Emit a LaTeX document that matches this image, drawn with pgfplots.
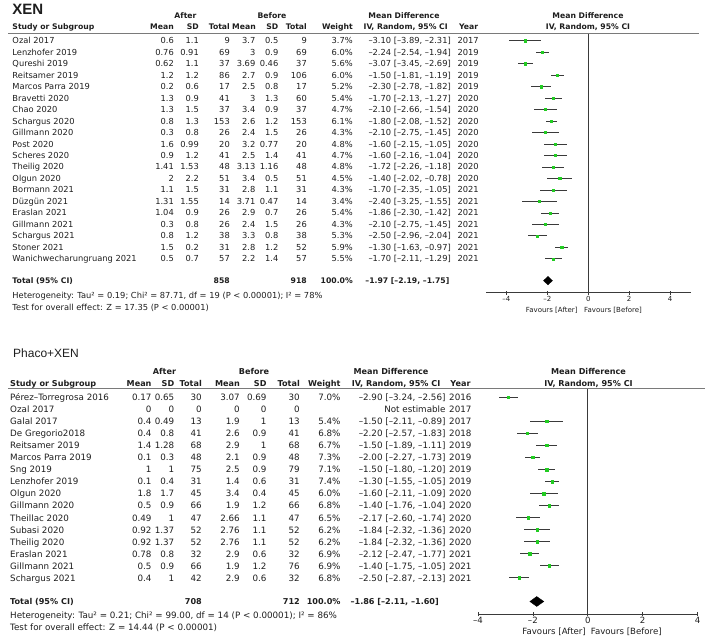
\documentclass[border=0pt]{standalone}
\usepackage{fontspec}
\setmainfont{DejaVu Sans}
\newfontfamily\arialf{Liberation Sans}
\usepackage{pgfplots}
\pgfplotsset{compat=1.18}
\usepackage{pgfplotstable}
\definecolor{txt}{HTML}{1E1E1E}
\definecolor{ci}{HTML}{3A3A3A}
\definecolor{gmark}{HTML}{22CC22}
\definecolor{rulec}{HTML}{7A7A7A}

% XEN: row (negative index), mean difference, lower, upper
\pgfplotstableread{
row md lo hi
-1 -3.10 -3.89 -2.31
-2 -2.24 -2.54 -1.94
-3 -3.07 -3.45 -2.69
-4 -1.50 -1.81 -1.19
-5 -2.30 -2.78 -1.82
-6 -1.70 -2.13 -1.27
-7 -2.10 -2.66 -1.54
-8 -1.80 -2.08 -1.52
-9 -2.10 -2.75 -1.45
-10 -1.60 -2.15 -1.05
-11 -1.60 -2.16 -1.04
-12 -1.72 -2.26 -1.18
-13 -1.40 -2.02 -0.78
-14 -1.70 -2.35 -1.05
-15 -2.40 -3.25 -1.55
-16 -1.86 -2.30 -1.42
-17 -2.10 -2.75 -1.45
-18 -2.50 -2.96 -2.04
-19 -1.30 -1.63 -0.97
-20 -1.70 -2.11 -1.29
}\xendata

% Phaco+XEN (row 2 not estimable)
\pgfplotstableread{
row md lo hi
-1 -2.90 -3.24 -2.56
-3 -1.50 -2.11 -0.89
-4 -2.20 -2.57 -1.83
-5 -1.50 -1.89 -1.11
-6 -2.00 -2.27 -1.73
-7 -1.50 -1.80 -1.20
-8 -1.30 -1.55 -1.05
-9 -1.60 -2.11 -1.09
-10 -1.40 -1.76 -1.04
-11 -2.17 -2.60 -1.74
-12 -1.84 -2.32 -1.36
-13 -1.84 -2.32 -1.36
-14 -2.12 -2.47 -1.77
-15 -1.40 -1.75 -1.05
-16 -2.50 -2.87 -2.13
}\phacodata

\newcommand\fa{\fontsize{8.3}{10}\selectfont}
\newcommand\fab{\bfseries\fontsize{7.7}{10}\selectfont}
\newcommand\fb{\fontsize{8.75}{10}\selectfont}
\newcommand\fbb{\bfseries\fontsize{8.1}{10}\selectfont}

\def\toprows{Ozal 2017/0.6/1.1/9/3.7/0.5/9/3.7\%/{--3.10 [--3.89, --2.31]}/2017,
Lenzhofer 2019/0.76/0.91/69/3/0.9/69/6.0\%/{--2.24 [--2.54, --1.94]}/2019,
Qureshi 2019/0.62/1.1/37/3.69/0.46/37/5.6\%/{--3.07 [--3.45, --2.69]}/2019,
Reitsamer 2019/1.2/1.2/86/2.7/0.9/106/6.0\%/{--1.50 [--1.81, --1.19]}/2019,
Marcos Parra 2019/0.2/0.6/17/2.5/0.8/17/5.2\%/{--2.30 [--2.78, --1.82]}/2019,
Bravetti 2020/1.3/0.9/41/3/1.3/60/5.4\%/{--1.70 [--2.13, --1.27]}/2020,
Chao 2020/1.3/1.5/37/3.4/0.9/37/4.7\%/{--2.10 [--2.66, --1.54]}/2020,
Schargus 2020/0.8/1.3/153/2.6/1.2/153/6.1\%/{--1.80 [--2.08, --1.52]}/2020,
Gillmann 2020/0.3/0.8/26/2.4/1.5/26/4.3\%/{--2.10 [--2.75, --1.45]}/2020,
Post 2020/1.6/0.99/20/3.2/0.77/20/4.8\%/{--1.60 [--2.15, --1.05]}/2020,
Scheres 2020/0.9/1.2/41/2.5/1.4/41/4.7\%/{--1.60 [--2.16, --1.04]}/2020,
Theilig 2020/1.41/1.53/48/3.13/1.16/48/4.8\%/{--1.72 [--2.26, --1.18]}/2020,
Olgun 2020/2/2.2/51/3.4/0.5/51/4.5\%/{--1.40 [--2.02, --0.78]}/2020,
Bormann 2021/1.1/1.5/31/2.8/1.1/31/4.3\%/{--1.70 [--2.35, --1.05]}/2021,
Düzgün 2021/1.31/1.55/14/3.71/0.47/14/3.4\%/{--2.40 [--3.25, --1.55]}/2021,
Eraslan 2021/1.04/0.9/26/2.9/0.7/26/5.4\%/{--1.86 [--2.30, --1.42]}/2021,
Gillmann 2021/0.3/0.8/26/2.4/1.5/26/4.3\%/{--2.10 [--2.75, --1.45]}/2021,
Schargus 2021/0.8/1.2/38/3.3/0.8/38/5.3\%/{--2.50 [--2.96, --2.04]}/2021,
Stoner 2021/1.5/0.2/31/2.8/1.2/52/5.9\%/{--1.30 [--1.63, --0.97]}/2021,
Wanichwecharungruang 2021/0.5/0.7/57/2.2/1.4/57/5.5\%/{--1.70 [--2.11, --1.29]}/2021}

\def\botrows{Pérez--Torregrosa 2016/0.17/0.65/30/3.07/0.69/30/7.0\%/{--2.90 [--3.24, --2.56]}/2016,
Ozal 2017/0/0/0/0/0/0//{Not estimable}/2017,
Galal 2017/0.4/0.49/13/1.9/1/13/5.4\%/{--1.50 [--2.11, --0.89]}/2017,
De Gregorio2018/0.4/0.8/41/2.6/0.9/41/6.8\%/{--2.20 [--2.57, --1.83]}/2018,
Reitsamer 2019/1.4/1.28/68/2.9/1/68/6.7\%/{--1.50 [--1.89, --1.11]}/2019,
Marcos Parra 2019/0.1/0.3/48/2.1/0.9/48/7.3\%/{--2.00 [--2.27, --1.73]}/2019,
Sng 2019/1/1/75/2.5/0.9/79/7.1\%/{--1.50 [--1.80, --1.20]}/2019,
Lenzhofer 2019/0.1/0.4/31/1.4/0.6/31/7.4\%/{--1.30 [--1.55, --1.05]}/2019,
Olgun 2020/1.8/1.7/45/3.4/0.4/45/6.0\%/{--1.60 [--2.11, --1.09]}/2020,
Gillmann 2020/0.5/0.9/66/1.9/1.2/66/6.8\%/{--1.40 [--1.76, --1.04]}/2020,
Theillac 2020/0.49/1/47/2.66/1.1/47/6.5\%/{--2.17 [--2.60, --1.74]}/2020,
Subasi 2020/0.92/1.37/52/2.76/1.1/52/6.2\%/{--1.84 [--2.32, --1.36]}/2020,
Theilig 2020/0.92/1.37/52/2.76/1.1/52/6.2\%/{--1.84 [--2.32, --1.36]}/2020,
Eraslan 2021/0.78/0.8/32/2.9/0.6/32/6.9\%/{--2.12 [--2.47, --1.77]}/2021,
Gillmann 2021/0.5/0.9/66/1.9/1.2/76/6.9\%/{--1.40 [--1.75, --1.05]}/2021,
Schargus 2021/0.4/1/42/2.9/0.6/32/6.8\%/{--2.50 [--2.87, --2.13]}/2021}

\begin{document}
\begin{tikzpicture}
\useasboundingbox (0,0) rectangle (708pt,-638pt);

% ---------------- top forest axis ----------------
\begin{axis}[at={(486pt,-292.7pt)}, anchor=south west, scale only axis,
  width=204.5pt, height=259.4pt, xmin=-5, xmax=5, ymin=-22.95, ymax=-0.355,
  axis x line*=bottom, axis y line=none, clip=false,
  xtick={-4,-2,0,2,4}, xticklabels={--4,--2,0,2,4},
  tick align=center, major tick length=4pt,
  x axis line style={ci, line width=0.7pt}, every tick/.style={ci, line width=0.7pt},
  xticklabel style={font=\fontsize{7}{8}\selectfont, text=txt, inner sep=1pt}]
\addplot[ci, line width=0.7pt] coordinates {(0,-0.355) (0,-22.95)};
\addplot[only marks, mark=square*, mark size=1.1pt, mark options={fill=gmark, draw=gmark},
  error bars/.cd, x dir=both, x explicit, error mark=none,
  error bar style={ci, line width=0.8pt}]
  table[x=md, y=row, x error plus expr=\thisrow{hi}-\thisrow{md}, x error minus expr=\thisrow{md}-\thisrow{lo}] {\xendata};
\addplot[fill=black, draw=black, line width=0.3pt] coordinates {(-2.19,-21.9) (-1.97,-21.53) (-1.75,-21.9) (-1.97,-22.27)} -- cycle;
\end{axis}

% ---------------- bottom forest axis ----------------
\begin{axis}[at={(478pt,-614pt)}, anchor=south west, scale only axis,
  width=219.5pt, height=225.2pt, xmin=-4, xmax=4, ymin=-19.0, ymax=-0.3,
  axis x line*=bottom, axis y line=none, clip=false,
  xtick={-4,-2,0,2,4}, xticklabels={--4,--2,0,2,4},
  tick align=center, major tick length=4.5pt,
  x axis line style={ci, line width=0.7pt}, every tick/.style={ci, line width=0.7pt},
  xticklabel style={font=\fontsize{8.6}{9}\selectfont, text=txt, inner sep=1pt}]
\addplot[ci, line width=0.7pt] coordinates {(0,-0.3) (0,-19.0)};
\addplot[only marks, mark=square*, mark size=1.2pt, mark options={fill=gmark, draw=gmark},
  error bars/.cd, x dir=both, x explicit, error mark=none,
  error bar style={ci, line width=0.8pt}]
  table[x=md, y=row, x error plus expr=\thisrow{hi}-\thisrow{md}, x error minus expr=\thisrow{md}-\thisrow{lo}] {\phacodata};
\addplot[fill=black, draw=black, line width=0.3pt] coordinates {(-2.11,-17.96) (-1.86,-17.545) (-1.60,-17.96) (-1.86,-18.375)} -- cycle;
\end{axis}

\begin{scope}[x=1pt, y=-1pt, every node/.style={inner sep=0pt, text=txt}]
% ===== top panel text =====
\node[anchor=west, font=\arialf\bfseries\fontsize{15}{16}\selectfont] at (12.2,9.6) {XEN};
\node[anchor=base, font=\fab] at (185.5,18) {After};
\node[anchor=base, font=\fab] at (272,18) {Before};
\node[anchor=base, font=\fab] at (404,18.7) {Mean Difference};
\node[anchor=base, font=\fab] at (588,18.7) {Mean Difference};
\foreach \xx/\tt in {174/Mean,199/SD,230/Total,256/Mean,278.5/SD,307/Total,353/Weight,478.3/Year}
  \node[anchor=base east, font=\fab] at (\xx,29.7) {\tt};
\node[anchor=base west, font=\fab] at (12.3,29.7) {Study or Subgroup};
\node[anchor=base, font=\fab] at (405.7,29.7) {IV, Random, 95\% CI};
\node[anchor=base, font=\fab] at (588,29.7) {IV, Random, 95\% CI};
\draw[rulec, line width=0.9pt] (8,33.3) -- (699,33.3);

\foreach \vA/\vB/\vC/\vD/\vE/\vF/\vG/\vH/\vI/\vJ [count=\i] in \toprows {
  \pgfmathsetmacro\yy{29.22+11.48*\i+3.0}
  \node[anchor=base west, font=\fa] at (12.3,\yy) {\vA};
  \node[anchor=base east, font=\fa] at (174,\yy) {\vB};
  \node[anchor=base east, font=\fa] at (199,\yy) {\vC};
  \node[anchor=base east, font=\fa] at (230,\yy) {\vD};
  \node[anchor=base east, font=\fa] at (255.5,\yy) {\vE};
  \node[anchor=base east, font=\fa] at (278.5,\yy) {\vF};
  \node[anchor=base east, font=\fa] at (307,\yy) {\vG};
  \node[anchor=base east, font=\fa] at (353,\yy) {\vH};
  \node[anchor=base east, font=\fa] at (451,\yy) {\vI};
  \node[anchor=base west, font=\fa] at (457.3,\yy) {\vJ};
}
\node[anchor=base west, font=\fab] at (12.3,283.7) {Total (95\% CI)};
\node[anchor=base east, font=\fab] at (230,283.7) {858};
\node[anchor=base east, font=\fab] at (307,283.7) {918};
\node[anchor=base east, font=\fab] at (353,283.7) {100.0\%};
\node[anchor=base east, font=\fab] at (449.5,283.7) {--1.97 [--2.19, --1.75]};
\node[anchor=base west, font=\fa] at (12.3,298) {Heterogeneity: Tau² = 0.19; Chi² = 87.71, df = 19 (P < 0.00001); I² = 78\%};
\node[anchor=base west, font=\fa] at (12.3,310) {Test for overall effect: Z = 17.35 (P < 0.00001)};
\node[anchor=base east, font=\fontsize{7}{8}\selectfont] at (577.7,312.5) {Favours [After]};
\node[anchor=base west, font=\fontsize{7}{8}\selectfont] at (584,312.5) {Favours [Before]};

% ===== bottom panel text =====
\node[anchor=west, font=\arialf\fontsize{12}{13}\selectfont] at (13,353.7) {Phaco+XEN};
\node[anchor=base, font=\fbb] at (164.5,374) {After};
\node[anchor=base, font=\fbb] at (254,374) {Before};
\node[anchor=base, font=\fbb] at (391,374) {Mean Difference};
\node[anchor=base, font=\fbb] at (588.5,374) {Mean Difference};
\foreach \xx/\tt in {151.7/Mean,174.5/SD,202/Total,240/Mean,266.7/SD,300/Total,340.7/Weight,470.7/Year}
  \node[anchor=base east, font=\fbb] at (\xx,386.9) {\tt};
\node[anchor=base west, font=\fbb] at (10,386.9) {Study or Subgroup};
\node[anchor=base west, font=\fbb] at (351.7,386.9) {IV, Random, 95\% CI};
\node[anchor=base, font=\fbb] at (588.5,386.9) {IV, Random, 95\% CI};
\draw[rulec, line width=0.9pt] (8,388.8) -- (705,388.8);

\foreach \vA/\vB/\vC/\vD/\vE/\vF/\vG/\vH/\vI/\vJ [count=\i] in \botrows {
  \pgfmathsetmacro\yy{385.25+12.05*\i+3.2}
  \node[anchor=base west, font=\fb] at (10,\yy) {\vA};
  \node[anchor=base east, font=\fb] at (151.7,\yy) {\vB};
  \node[anchor=base east, font=\fb] at (174.5,\yy) {\vC};
  \node[anchor=base east, font=\fb] at (202,\yy) {\vD};
  \node[anchor=base east, font=\fb] at (240,\yy) {\vE};
  \node[anchor=base east, font=\fb] at (266.7,\yy) {\vF};
  \node[anchor=base east, font=\fb] at (300,\yy) {\vG};
  \node[anchor=base east, font=\fb] at (340.7,\yy) {\vH};
  \node[anchor=base east, font=\fb] at (445.7,\yy) {\vI};
  \node[anchor=base west, font=\fb] at (449,\yy) {\vJ};
}
\node[anchor=base west, font=\fbb] at (10,604.9) {Total (95\% CI)};
\node[anchor=base east, font=\fbb] at (202,604.9) {708};
\node[anchor=base east, font=\fbb] at (300,604.9) {712};
\node[anchor=base east, font=\fbb] at (340.7,604.9) {100.0\%};
\node[anchor=base east, font=\fbb] at (439,604.9) {--1.86 [--2.11, --1.60]};
\node[anchor=base west, font=\fb] at (10,618.2) {Heterogeneity: Tau² = 0.21; Chi² = 99.00, df = 14 (P < 0.00001); I² = 86\%};
\node[anchor=base west, font=\fb] at (10,630.5) {Test for overall effect: Z = 14.44 (P < 0.00001)};
\node[anchor=base east, font=\fontsize{8.6}{9}\selectfont] at (586,634) {Favours [After]};
\node[anchor=base west, font=\fontsize{8.6}{9}\selectfont] at (590.7,634) {Favours [Before]};
\end{scope}
\end{tikzpicture}
\end{document}
